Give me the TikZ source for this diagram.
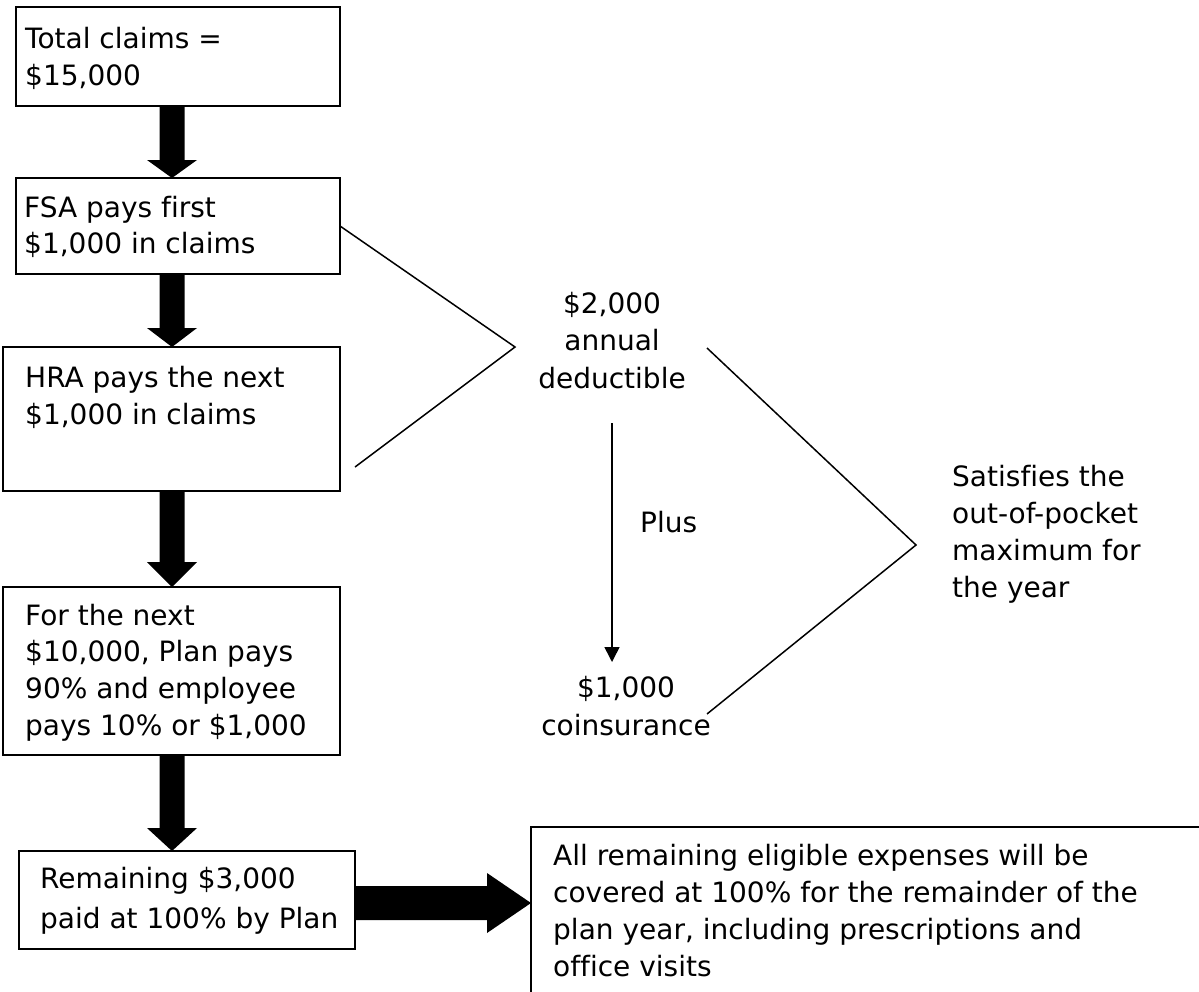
\documentclass[tikz,border=0pt]{standalone}
\usepackage{fontspec}
\setmainfont{DejaVu Sans}[Ligatures=NoCommon]
\usetikzlibrary{arrows.meta,calc}
\tikzset{
  box/.style={draw, line width=2pt, rectangle, inner sep=0pt, outer sep=0pt, anchor=north west},
  txt/.style={inner sep=0pt, anchor=base west, font=\fontsize{28}{37.5}\selectfont},
  ctxt/.style={txt, anchor=base},
  thinline/.style={line width=1.5pt},
  fatdown/.style={to path={let \p1=(\tikztostart), \p2=(\tikztotarget) in
    (\x1-12.5pt,\y1) -- (\x1-12.5pt,\y2+#1) -- (\x1-25pt,\y2+#1) -- (\x2,\y2)
    -- (\x1+25pt,\y2+#1) -- (\x1+12.5pt,\y2+#1) -- (\x1+12.5pt,\y1) -- cycle}},
  fatdown/.default=18pt,
  fatright/.style={to path={let \p1=(\tikztostart), \p2=(\tikztotarget) in
    (\x1,\y1+17pt) -- (\x2-44pt,\y1+17pt) -- (\x2-44pt,\y1+30pt) -- (\x2,\y1)
    -- (\x2-44pt,\y1-30pt) -- (\x2-44pt,\y1-17pt) -- (\x1,\y1-17pt) -- cycle}}
}
\begin{document}
\begin{tikzpicture}[x=1pt,y=-1pt]
  \useasboundingbox (0,0) rectangle (1199,991);
  \clip (0,0) rectangle (1199,991);

  % flow boxes
  \node[box, minimum width=324pt, minimum height=99pt]  (b1) at (16,7) {};
  \node[box, minimum width=324pt, minimum height=96pt]  (b2) at (16,178) {};
  \node[box, minimum width=337pt, minimum height=144pt] (b3) at (3,347) {};
  \node[box, minimum width=337pt, minimum height=168pt] (b4) at (3,587) {};
  \node[box, minimum width=336pt, minimum height=98pt]  (b5) at (19,851) {};
  \node[box, minimum width=700pt, minimum height=200pt] (b6) at (531,827) {};

  % box texts
  \node[txt] (t1) at (25,48) {\begin{tabular}[t]{@{}l@{}}Total claims =\\ \$15,000\end{tabular}};
  \node[txt, font=\fontsize{28}{36}\selectfont] (t2) at (24,217) {\begin{tabular}[t]{@{}l@{}}FSA pays first\\ \$1,000 in claims\end{tabular}};
  \node[txt] (t3) at (25,387) {\begin{tabular}[t]{@{}l@{}}HRA pays the next\\ \$1,000 in claims\end{tabular}};
  \node[txt, font=\fontsize{28}{36.7}\selectfont] (t4) at (25,625) {\begin{tabular}[t]{@{}l@{}}For the next\\ \$10,000, Plan pays\\ 90\% and employee\\ pays 10\% or \$1,000\end{tabular}};
  \node[txt, font=\fontsize{28}{40}\selectfont] (t5) at (40,888) {\begin{tabular}[t]{@{}l@{}}Remaining \$3,000\\ paid at 100\% by Plan\end{tabular}};
  \node[txt, font=\fontsize{28}{37}\selectfont] (t6) at (553,865) {\begin{tabular}[t]{@{}l@{}}All remaining eligible expenses will be\\ covered at 100\% for the remainder of the\\ plan year, including prescriptions and\\ office visits\end{tabular}};

  % thick flow arrows
  \coordinate (ax) at (172,0);
  \coordinate (ay) at (0,903);
  \fill (b1.south -| ax) to[fatdown=18pt] (b2.north -| ax);
  \fill (b2.south -| ax) to[fatdown=19pt] (b3.north -| ax);
  \fill (b3.south -| ax) to[fatdown=25pt] (b4.north -| ax);
  \fill (b4.south -| ax) to[fatdown=23pt] (b5.north -| ax);
  \fill (b5.east |- ay) to[fatright] (b6.west |- ay);

  % deductible and coinsurance
  \node[ctxt] (ded) at (612,313) {\begin{tabular}[t]{@{}c@{}}\$2,000\\ annual\\ deductible\end{tabular}};
  \node[txt] (plus) at (640,532) {Plus};
  \node[ctxt, font=\fontsize{28}{38}\selectfont] (coin) at (626,697) {\begin{tabular}[t]{@{}c@{}}\$1,000\\ coinsurance\end{tabular}};
  \node[txt, font=\fontsize{28}{37.3}\selectfont] (sat) at (952,486) {\begin{tabular}[t]{@{}l@{}}Satisfies the\\ out-of-pocket\\ maximum for\\ the year\end{tabular}};

  % bracket lines
  \coordinate (apx1) at (515,347);
  \coordinate (e1) at (355,467);
  \draw[thinline] (b2.east) -- (apx1) -- (e1);
  \coordinate (r1) at (707,348);
  \coordinate (apx2) at (916,545);
  \coordinate (r2) at (707,714);
  \draw[thinline] (r1) -- (apx2) -- (r2);

  % plus arrow
  \coordinate (pa) at (612,423);
  \coordinate (pb) at (612,662);
  \draw[thinline, -{Triangle[width=15pt,length=15pt]}] (pa) -- (pb);
\end{tikzpicture}
\end{document}
